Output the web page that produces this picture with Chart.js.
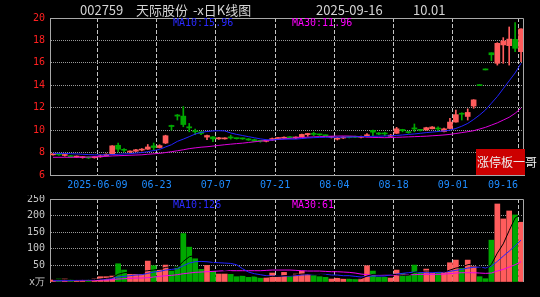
<!DOCTYPE html>
<html>
<head>
<meta charset="utf-8">
<script src="https://cdn.jsdelivr.net/npm/chart.js@4.4.1/dist/chart.umd.min.js"></script>
<style>
  body { margin: 0; background: #000; width: 540px; height: 297px; overflow: hidden; position: relative; }
  canvas { position: absolute; left: 0; }
  .t { position: absolute; white-space: nowrap; line-height: 12px; }
  .title { top: 3px; font: 13px "Noto Sans CJK SC", sans-serif; color: #d4d4d4; line-height: 14px; }
  .ma { font: 10px "DejaVu Sans Mono", monospace; }
  #zt { position: absolute; left: 476px; top: 149px; width: 49px; height: 26px; background: #cc0000; }
  #ztText { top: 155px; left: 477px; font: 12px "Noto Sans CJK SC", sans-serif; color: #ececec; line-height: 14px; }
</style>
</head>
<body>
<canvas id="price" width="540" height="195" style="top:0"></canvas>
<canvas id="vol" width="540" height="102" style="top:195px"></canvas>

<div class="t title" style="left:80px">002759</div>
<div class="t title" style="left:136px">天际股份</div>
<div class="t title" style="left:193px">-x日K线图</div>
<div class="t title" style="left:316px">2025-09-16</div>
<div class="t title" style="left:413px">10.01</div>

<div class="t ma" style="left:173px;top:17px;color:#2a2aff">MA10:15.96</div>
<div class="t ma" style="left:292px;top:17px;color:#ff00ff">MA30:11.96</div>
<div class="t ma" style="left:173px;top:199px;color:#2a2aff">MA10:126</div>
<div class="t ma" style="left:292px;top:199px;color:#ff00ff">MA30:61</div>

<div id="zt"></div>
<div class="t" id="ztText">涨停板一哥</div>

<script>
// 日期 (交易日)
const dates = [
  '2025-05-27','2025-05-28','2025-05-29','2025-05-30',
  '2025-06-03','2025-06-04','2025-06-05','2025-06-06','2025-06-09','2025-06-10','2025-06-11','2025-06-12','2025-06-13',
  '2025-06-16','2025-06-17','2025-06-18','2025-06-19','2025-06-20','2025-06-23','2025-06-24','2025-06-25','2025-06-26',
  '2025-06-27','2025-06-30',
  '2025-07-01','2025-07-02','2025-07-03','2025-07-04','2025-07-07','2025-07-08','2025-07-09','2025-07-10','2025-07-11',
  '2025-07-14','2025-07-15','2025-07-16','2025-07-17','2025-07-18','2025-07-21','2025-07-22','2025-07-23','2025-07-24',
  '2025-07-25','2025-07-28','2025-07-29','2025-07-30','2025-07-31',
  '2025-08-01','2025-08-04','2025-08-05','2025-08-06','2025-08-07','2025-08-08','2025-08-11','2025-08-12','2025-08-13',
  '2025-08-14','2025-08-15','2025-08-18','2025-08-19','2025-08-20','2025-08-21','2025-08-22','2025-08-25','2025-08-26',
  '2025-08-27','2025-08-28','2025-08-29',
  '2025-09-01','2025-09-02','2025-09-03','2025-09-04','2025-09-05','2025-09-08','2025-09-09','2025-09-10','2025-09-11',
  '2025-09-12','2025-09-15','2025-09-16'
];

const opens = [7.8,7.86,7.74,7.72,7.6,7.55,7.6,7.54,7.62,7.72,
  7.88,8.65,8.25,8.05,8.12,8.22,8.3,8.6,8.45,8.85,
  10.42,11.35,11.25,10.3,9.95,9.85,9.38,9.4,9.22,9.22,
  9.4,9.28,9.28,9.22,9.15,9.05,9.0,9.12,9.25,9.28,
  9.38,9.3,9.42,9.6,9.68,9.62,9.55,9.35,9.2,9.3,
  9.4,9.42,9.36,9.5,9.98,9.75,9.72,9.45,9.72,10.06,
  9.85,10.2,10.02,10.02,10.12,10.15,9.88,10.15,10.72,11.5,
  11.22,12.15,13.97,15.37,16.9,15.96,17.6,17.53,18.1,17.0];
const highs = [7.9,7.88,7.82,7.74,7.7,7.64,7.62,7.66,7.8,7.9,
  8.62,8.85,8.35,8.15,8.3,8.35,8.72,8.85,8.7,9.55,
  10.45,11.4,12.1,10.6,10.1,9.9,9.56,9.42,9.36,9.32,
  9.55,9.3,9.3,9.25,9.2,9.08,9.12,9.3,9.35,9.4,
  9.42,9.4,9.65,9.72,9.82,9.65,9.58,9.45,9.35,9.42,
  9.45,9.48,9.46,9.7,10.0,9.78,9.82,9.62,10.25,10.08,
  9.88,10.55,10.05,10.26,10.32,10.3,10.18,11.05,11.8,11.55,
  11.9,12.72,13.97,15.37,16.9,17.8,18.25,19.2,19.6,19.03];
const lows = [7.76,7.74,7.68,7.58,7.56,7.5,7.46,7.5,7.58,7.68,
  7.85,8.05,8.05,7.98,8.08,8.15,8.28,8.25,8.4,8.8,
  10.0,10.9,10.3,9.85,9.6,9.6,9.15,8.97,9.18,9.2,
  9.2,9.2,9.18,9.08,8.97,8.92,8.95,9.08,9.2,9.25,
  9.28,9.25,9.38,9.45,9.5,9.52,9.45,9.3,9.12,9.25,
  9.3,9.32,9.3,9.4,9.5,9.6,9.5,9.4,9.7,9.85,
  9.72,9.85,9.92,10.0,10.1,9.9,9.85,10.1,10.7,10.9,
  10.9,11.95,13.97,15.37,16.2,15.8,15.96,15.8,17.0,16.1];
const closes = [7.86,7.8,7.78,7.62,7.65,7.6,7.52,7.62,7.72,7.85,
  8.6,8.3,8.2,8.1,8.25,8.28,8.5,8.45,8.62,9.5,
  10.32,11.25,10.5,10.2,9.85,9.7,9.52,9.22,9.32,9.28,
  9.3,9.24,9.22,9.12,9.02,9.0,9.08,9.25,9.32,9.35,
  9.32,9.38,9.62,9.7,9.62,9.58,9.5,9.42,9.28,9.38,
  9.35,9.36,9.42,9.58,9.82,9.65,9.66,9.55,10.12,9.95,
  9.78,10.1,9.98,10.22,10.28,10.1,10.12,10.72,11.38,11.42,
  11.58,12.7,13.97,15.37,16.72,17.74,17.95,18.12,17.3,19.03];

const ma10 = [7.93,7.93,7.92,7.9,7.88,7.85,7.82,7.8,7.8,7.8,
  7.82,7.85,7.88,7.9,7.95,8.0,8.08,8.18,8.28,8.5,
  8.7,9.0,9.2,9.42,9.65,9.8,9.88,9.93,9.95,9.93,
  9.75,9.62,9.52,9.42,9.32,9.22,9.15,9.12,9.18,9.2,
  9.2,9.2,9.25,9.3,9.33,9.35,9.36,9.37,9.37,9.38,
  9.38,9.4,9.42,9.43,9.45,9.46,9.48,9.5,9.53,9.57,
  9.62,9.66,9.72,9.78,9.83,9.88,9.93,10.0,10.15,10.35,
  10.6,10.95,11.35,11.8,12.4,13.0,13.7,14.4,15.1,15.96];
const ma30 = [7.58,7.58,7.58,7.58,7.58,7.59,7.6,7.62,7.64,7.66,
  7.7,7.72,7.74,7.76,7.78,7.8,7.85,7.89,7.93,8.0,
  8.08,8.16,8.25,8.35,8.42,8.48,8.52,8.58,8.64,8.7,
  8.75,8.8,8.84,8.9,8.96,9.02,9.07,9.12,9.17,9.22,
  9.27,9.31,9.34,9.37,9.4,9.42,9.44,9.46,9.47,9.48,
  9.47,9.45,9.42,9.38,9.35,9.34,9.33,9.34,9.36,9.38,
  9.4,9.42,9.44,9.46,9.5,9.53,9.57,9.62,9.7,9.78,
  9.86,9.95,10.1,10.25,10.45,10.65,10.9,11.15,11.5,11.96];

// 成交量 (万)
const volumes = [6,9,9,8,5,6,8,9,16,16,
  18,55,36,23,23,23,63,49,36,51,
  33,46,146,105,70,38,50,32,24,24,
  23,16,18,14,17,12,13,27,16,29,
  16,24,33,23,19,16,14,9,12,9,
  11,9,11,49,33,14,14,12,36,26,
  19,51,29,39,26,29,29,58,66,41,
  66,46,16,10,126,235,190,214,202,180];
const volMa5 = [7,7,7,7,7,7,7,7,9,11,
  13,23,28,30,31,32,34,36,39,44,
  46,43,62,76,80,81,82,59,43,34,
  31,24,21,19,18,15,15,17,17,19,
  20,22,24,25,23,23,21,16,14,12,
  11,10,10,18,23,23,24,24,22,20,
  21,29,32,33,33,35,30,36,42,45,
  52,55,47,36,53,87,115,155,193,204];
const volMa10 = [4,4,4,5,5,6,6,7,8,9,
  11,15,17,19,21,22,26,30,32,36,
  38,40,49,57,61,62,61,59,58,57,
  56,52,40,30,25,22,19,18,17,18,
  18,19,21,22,22,23,23,21,21,19,
  19,17,15,17,18,18,18,22,24,26,
  28,30,29,28,28,29,30,32,35,38,
  42,44,45,42,48,62,78,93,109,126];
const volMa30 = [4,4,4,4,5,5,5,5,6,6,
  7,9,10,11,12,12,13,15,17,19,
  20,22,25,27,29,30,31,32,33,34,
  34,34,34,34,34,34,35,36,36,36,
  36,35,34,33,33,33,32,31,31,30,
  29,27,24,22,21,21,21,21,21,21,
  22,22,23,23,23,23,24,25,27,28,
  28,28,27,26,27,33,38,45,52,61];

const tickDates = ['2025-06-09','2025-06-23','2025-07-07','2025-07-21','2025-08-04','2025-08-18','2025-09-01','2025-09-16'];
const tickTexts = ['2025-06-09','06-23','07-07','07-21','08-04','08-18','09-01','09-16     '];

const UP = '#ff5c5c', DOWN = '#00a800';
const FRAME = '#a8a8a8';
const MONO = { family: 'DejaVu Sans Mono', size: 10 };

const tickIdx = tickDates.map(d => dates.indexOf(d));
const barColors = closes.map((c, i) => c > opens[i] ? UP : DOWN);

// 外框 (上边和右边, 可选全部)
const framePlugin = {
  id: 'frame',
  afterDatasetsDraw(chart, args, opts) {
    const { ctx, chartArea: a } = chart;
    ctx.save();
    ctx.strokeStyle = FRAME;
    ctx.lineWidth = 1;
    ctx.beginPath();
    ctx.moveTo(Math.round(a.left) + 0.5, Math.round(a.top) + 0.5);
    ctx.lineTo(Math.round(a.right) - 0.5, Math.round(a.top) + 0.5);
    ctx.lineTo(Math.round(a.right) - 0.5, Math.round(a.bottom));
    ctx.stroke();
    ctx.restore();
  }
};

function xAxis(showLabels) {
  return {
    offset: true,
    grid: {
      offset: true,
      drawTicks: false,
      color: c => tickIdx.includes(c.index) ? '#c4c4c4' : 'rgba(0,0,0,0)'
    },
    border: { display: showLabels, color: FRAME, dash: [4, 2] },
    ticks: {
      display: showLabels,
      autoSkip: false,
      maxRotation: 0,
      minRotation: 0,
      padding: 4,
      labelOffset: -3,
      color: '#1e8cff',
      font: MONO,
      callback: function (v, i) {
        const k = tickIdx.indexOf(i);
        return k >= 0 ? tickTexts[k] : '';
      }
    },
    afterFit: s => { s.height = showLabels ? 20 : 0; s.paddingLeft = 0; s.paddingRight = 0; }
  };
}

function yGridColor(min, max) {
  return c => (c.tick.value === min || c.tick.value === max) ? 'rgba(0,0,0,0)' : '#9a9a9a';
}

const common = {
  responsive: false,
  animation: false,
  devicePixelRatio: 1,
  events: [],
  plugins: { legend: { display: false }, tooltip: { enabled: false } }
};

new Chart(document.getElementById('price'), {
  type: 'bar',
  data: {
    labels: dates,
    datasets: [
      { type: 'line', data: ma10, borderColor: '#2222ff', borderWidth: 1, pointRadius: 0, tension: 0, order: 0 },
      { type: 'line', data: ma30, borderColor: '#dd00dd', borderWidth: 1, pointRadius: 0, tension: 0, order: 0 },
      { data: lows.map((l, i) => [l, highs[i]]), backgroundColor: barColors, barThickness: 1, grouped: false, minBarLength: 1, order: 2 },
      { data: opens.map((o, i) => [o, closes[i]]), backgroundColor: barColors, barThickness: 5, grouped: false, minBarLength: 1, order: 1 }
    ]
  },
  options: Object.assign({}, common, {
    layout: { padding: { top: 18, right: 16, left: 0, bottom: 0 } },
    scales: {
      x: xAxis(true),
      y: {
        min: 6, max: 20,
        grid: { drawTicks: false, color: yGridColor(6, 20) },
        border: { color: FRAME, dash: [1, 1] },
        ticks: { stepSize: 2, padding: 5, color: '#ff2020', font: MONO },
        afterFit: s => { s.width = 50; s.paddingTop = 0; s.paddingBottom = 0; }
      }
    }
  }),
  plugins: [framePlugin]
});

new Chart(document.getElementById('vol'), {
  type: 'bar',
  data: {
    labels: dates,
    datasets: [
      { type: 'line', data: volMa5, borderColor: '#000000', borderWidth: 1, pointRadius: 0, tension: 0, order: 0 },
      { type: 'line', data: volMa10, borderColor: '#2222ff', borderWidth: 1, pointRadius: 0, tension: 0, order: 0 },
      { type: 'line', data: volMa30, borderColor: '#ee00ee', borderWidth: 1, pointRadius: 0, tension: 0, order: 0 },
      { data: volumes, backgroundColor: barColors, barThickness: 5, order: 1 }
    ]
  },
  options: Object.assign({}, common, {
    layout: { padding: { top: 4, right: 16, left: 0, bottom: 15 } },
    scales: {
      x: xAxis(false),
      y: {
        min: 0, max: 250,
        grid: { drawTicks: false, color: yGridColor(0, 250) },
        border: { color: FRAME, dash: [1, 1] },
        ticks: { stepSize: 50, padding: 5, color: '#c8c8c8', font: MONO, callback: v => v === 0 ? 'x万' : v },
        afterFit: s => { s.width = 50; s.paddingTop = 0; s.paddingBottom = 0; }
      }
    }
  }),
  plugins: [framePlugin]
});
</script>
</body>
</html>
